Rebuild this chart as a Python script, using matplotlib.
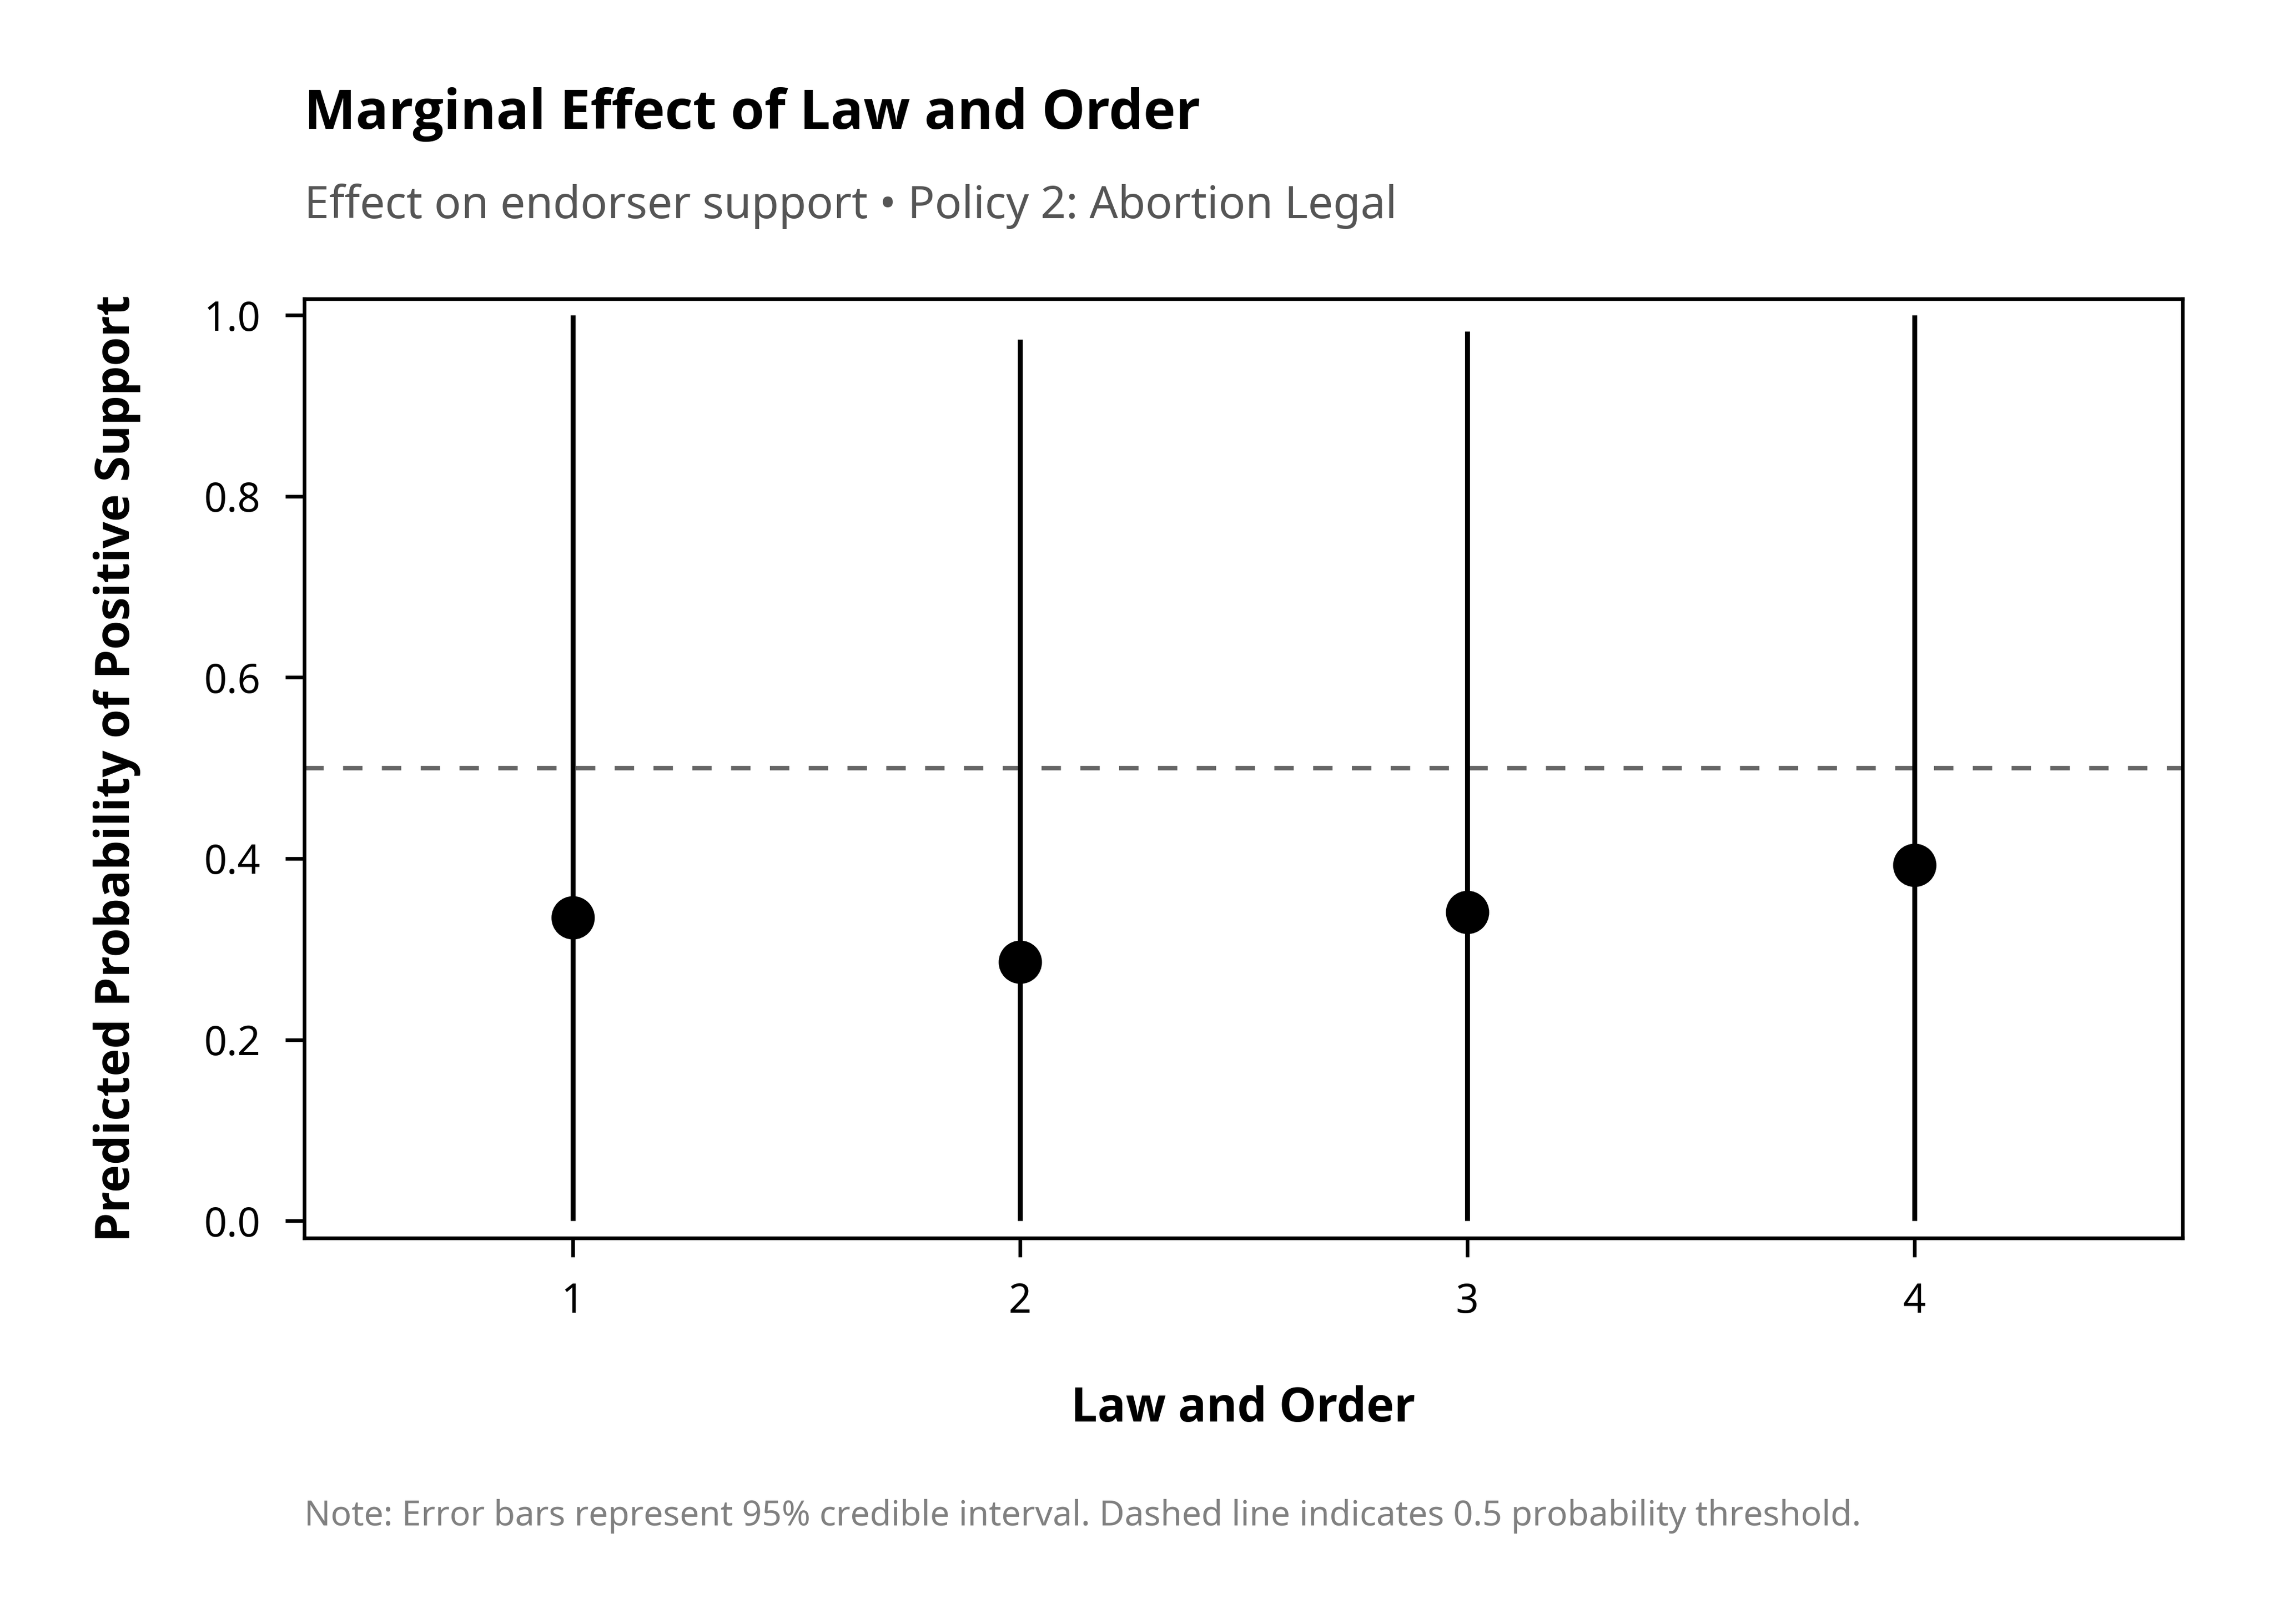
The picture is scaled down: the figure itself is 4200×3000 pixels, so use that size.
import matplotlib.pyplot as plt
import numpy as np

plt.rcParams["font.family"] = ["Noto Sans", "DejaVu Sans"]
BOLD_FONT = ["Open Sans", "Noto Sans", "DejaVu Sans"]

# Estimates
levels = [1, 2, 3, 4]
prob = [0.335, 0.286, 0.341, 0.393]
lower = [0.0, 0.0, 0.0, 0.0]
upper = [1.0, 0.973, 0.982, 1.0]

title = "Marginal Effect of Law and Order"
subtitle = "Effect on endorser support \u2022 Policy 2: Abortion Legal"
note = "Note: Error bars represent 95% credible interval. Dashed line indicates 0.5 probability threshold."

fig = plt.figure(figsize=(7, 5), dpi=600)
ax = fig.add_axes([0.1338, 0.2377, 0.826, 0.5783])

prob_arr = np.array(prob)
yerr = np.vstack([prob_arr - np.array(lower), np.array(upper) - prob_arr])

# threshold line
ax.axhline(0.5, color="#666666", linewidth=1.0, linestyle=(0, (4.3, 4.3)), zorder=1)

ax.errorbar(
    levels,
    prob,
    yerr=yerr,
    fmt="o",
    color="black",
    ecolor="black",
    elinewidth=1.1,
    capsize=0,
    markersize=8.6,
    zorder=3,
)

ax.set_xlim(0.4, 4.6)
ax.set_ylim(-0.019, 1.018)
ax.set_xticks(levels)
ax.set_yticks([0.0, 0.2, 0.4, 0.6, 0.8, 1.0])
ax.set_yticklabels(["0.0", "0.2", "0.4", "0.6", "0.8", "1.0"])
ax.tick_params(axis="both", labelsize=8.9, length=4.2, width=0.8, pad=5.5)

for sp in ax.spines.values():
    sp.set_linewidth(0.8)
    sp.set_color("black")

ax.set_xlabel("Law and Order", fontsize=10.4, fontweight="bold",
              family=BOLD_FONT, labelpad=14)
ax.set_ylabel("Predicted Probability of Positive Support", fontsize=10.4,
              fontweight="bold", family=BOLD_FONT, labelpad=14)

fig.text(0.1338, 1 - 238 / 3000, title, fontsize=12.1, fontweight="bold",
         family=BOLD_FONT, ha="left", va="baseline")
fig.text(0.1338, 1 - 403 / 3000, subtitle, fontsize=9.9, color="#555555",
         ha="left", va="baseline")
fig.text(0.1338, 1 - 2818 / 3000, note, fontsize=7.68, color="#808080",
         ha="left", va="baseline")

fig.savefig("out.png", dpi=600, facecolor="white")
